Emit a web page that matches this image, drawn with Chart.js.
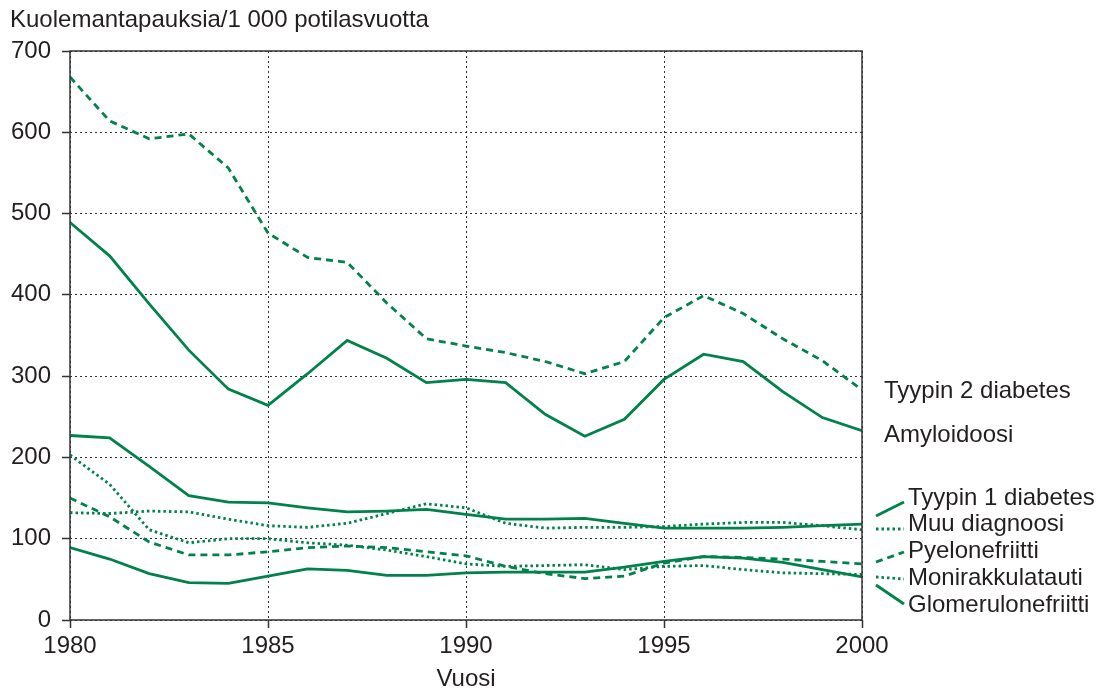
<!DOCTYPE html>
<html>
<head>
<meta charset="utf-8">
<script src="https://cdn.jsdelivr.net/npm/chart.js@4"></script>
<style>
  html, body { margin: 0; padding: 0; background: #fff; }
  #wrap { width: 1105px; height: 693px; }
</style>
</head>
<body>
<div id="wrap"><canvas id="myChart" width="1105" height="693"></canvas></div>
<script>
const years = [1980, 1981, 1982, 1983, 1984, 1985, 1986, 1987, 1988, 1989, 1990,
  1991, 1992, 1993, 1994, 1995, 1996, 1997, 1998, 1999, 2000];

const tyyppi2 = [668, 614, 592, 598, 556, 476, 446, 440, 390, 346, 337, 329, 318, 303, 318, 372, 399, 377, 346, 319, 283];
const amyloidoosi = [489, 448, 389, 332, 284, 264, 303, 344, 322, 292, 296, 292, 253, 226, 247, 296, 327, 318, 281, 249, 233];
const tyyppi1 = [227, 224, 189, 153, 145, 144, 138, 133, 134, 136, 130, 124, 124, 125, 119, 113, 113, 113, 114, 116, 118];
const muuDiagnoosi = [132, 131, 134, 133, 124, 116, 114, 119, 131, 143, 138, 119, 113, 114, 114, 115, 118, 120, 120, 116, 111];
const pyelonefriitti = [150, 127, 96, 80, 80, 84, 89, 91, 89, 84, 79, 66, 57, 51, 54, 70, 78, 77, 75, 72, 69];
const monirakkulatauti = [203, 167, 111, 95, 100, 100, 95, 92, 86, 78, 69, 66, 67, 68, 62, 66, 67, 62, 58, 57, 56];
const glomerulonefriitti = [89, 75, 57, 46, 45, 54, 63, 61, 55, 55, 58, 59, 59, 59, 65, 72, 78, 76, 71, 62, 53];

const yTicks = [0, 100, 200, 300, 400, 500, 600, 700];
const xTicks = [1980, 1985, 1990, 1995, 2000];

const seriesNames = ['Tyypin 2 diabetes', 'Amyloidoosi', 'Tyypin 1 diabetes', 'Muu diagnoosi',
  'Pyelonefriitti', 'Monirakkulatauti', 'Glomerulonefriitti'];

const green = '#00824a';
const DASH = [7, 5];
const DOT = [2.5, 3];
const FONT = '"Liberation Sans", Arial, sans-serif';

function pts(vals) {
  return years.map((yr, i) => ({ x: yr, y: vals[i] }));
}

function ds(label, vals, dash) {
  return {
    label: label,
    data: pts(vals),
    borderColor: green,
    borderWidth: 2.8,
    borderDash: dash,
    pointRadius: 0,
    tension: 0,
    fill: false,
  };
}

// texts and legend samples beside the plot
const labelsPlugin = {
  id: 'labelsPlugin',
  afterDraw(chart) {
    const ctx = chart.ctx;
    const a = chart.chartArea;
    ctx.save();
    // frame
    ctx.strokeStyle = '#333';
    ctx.lineWidth = 1.5;
    ctx.setLineDash([]);
    ctx.strokeRect(a.left, a.top, a.right - a.left, a.bottom - a.top);

    ctx.fillStyle = '#231f20';
    ctx.font = '24px ' + FONT;
    ctx.textBaseline = 'middle';
    ctx.textAlign = 'left';
    ctx.fillText('Kuolemantapauksia/1 000 potilasvuotta', 10, 20);
    ctx.textAlign = 'center';
    ctx.fillText('Vuosi', (a.left + a.right) / 2, 679);

    ctx.textAlign = 'left';
    ctx.fillText(seriesNames[0], 884, 391);
    ctx.fillText(seriesNames[1], 884, 435);

    const rows = [
      { name: seriesNames[2], y: 498, dash: [], y1: 516, y2: 502 },
      { name: seriesNames[3], y: 524, dash: DOT, y1: 529, y2: 529 },
      { name: seriesNames[4], y: 551, dash: DASH, y1: 562, y2: 552 },
      { name: seriesNames[5], y: 578, dash: DOT, y1: 577, y2: 579 },
      { name: seriesNames[6], y: 605, dash: [], y1: 585, y2: 604 },
    ];
    rows.forEach(r => {
      ctx.fillText(r.name, 908, r.y);
      ctx.beginPath();
      ctx.strokeStyle = green;
      ctx.lineWidth = 2.8;
      ctx.setLineDash(r.dash);
      ctx.moveTo(876, r.y1);
      ctx.lineTo(904, r.y2);
      ctx.stroke();
    });
    ctx.restore();
  }
};

const ctx = document.getElementById('myChart').getContext('2d');
const myChart = new Chart(ctx, {
  type: 'line',
  data: {
    datasets: [
      ds(seriesNames[0], tyyppi2, DASH),
      ds(seriesNames[1], amyloidoosi, []),
      ds(seriesNames[2], tyyppi1, []),
      ds(seriesNames[3], muuDiagnoosi, DOT),
      ds(seriesNames[4], pyelonefriitti, DASH),
      ds(seriesNames[5], monirakkulatauti, DOT),
      ds(seriesNames[6], glomerulonefriitti, []),
    ],
  },
  options: {
    responsive: false,
    animation: false,
    layout: { padding: { left: 0, top: 51, right: 243, bottom: 0 } },
    plugins: {
      legend: { display: false },
      tooltip: { enabled: false },
    },
    scales: {
      x: {
        type: 'linear',
        min: 1980,
        max: 2000,
        afterFit: s => { s.height = 73; },
        afterBuildTicks: s => { s.ticks = xTicks.map(v => ({ value: v })); },
        ticks: {
          color: '#231f20',
          font: { family: FONT, size: 24 },
          padding: 4,
          maxRotation: 0,
          callback: v => String(v),
        },
        grid: { color: '#333', lineWidth: 1, tickLength: 8, tickColor: '#333', tickWidth: 1.5 },
        border: { display: false, dash: [2, 3] },
      },
      y: {
        min: 0,
        max: 700,
        afterFit: s => { s.width = 70; },
        afterBuildTicks: s => { s.ticks = yTicks.map(v => ({ value: v })); },
        ticks: {
          color: '#231f20',
          font: { family: FONT, size: 24 },
          padding: 11,
          callback: v => String(v),
        },
        grid: { color: '#333', lineWidth: 1, tickLength: 8, tickColor: '#333', tickWidth: 1.5 },
        border: { display: false, dash: [2, 3] },
      },
    },
  },
  plugins: [labelsPlugin],
});
</script>
</body>
</html>
